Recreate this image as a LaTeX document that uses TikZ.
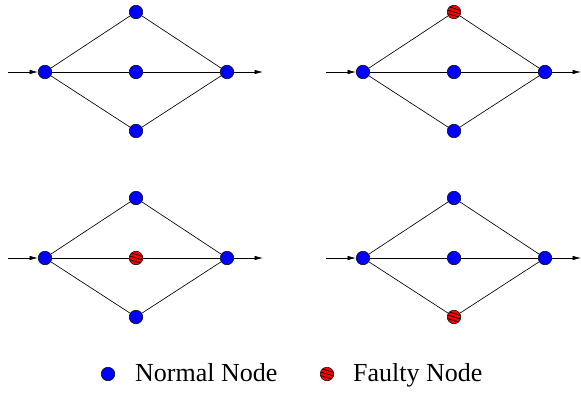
\documentclass[tikz,border=0pt]{standalone}
\usepackage{fontspec}
\setmainfont{Liberation Serif}
\usetikzlibrary{arrows.meta}
\begin{document}
\begin{tikzpicture}[x=1pt,y=-1pt,
  base/.style={circle, draw=black, line width=0.5pt, minimum size=13.5pt, inner sep=0pt},
  normal/.style={base, fill=blue},
  faulty/.style={base, fill=red, path picture={
     \foreach \o in {-3.6,0,3.6}
       \draw[line width=0.7pt] ([yshift=\o pt]path picture bounding box.center) ++(-8pt,2.5pt) -- ++(16pt,-5pt);}},
  edge/.style={line width=0.65pt},
  arr/.style={line width=0.65pt, -{Latex[length=8.5pt,width=4.5pt]}},
  lbl/.style={anchor=base west, inner sep=0pt, font=\fontsize{26}{30}\selectfont}]
\useasboundingbox (0,0) rectangle (581,393);
\foreach \i/\dx/\dy/\ts/\ms/\bs in {1/0/0/normal/normal/normal, 2/318/0/faulty/normal/normal, 3/0/186/normal/faulty/normal, 4/318/186/normal/normal/faulty}{
  \begin{scope}[shift={(\dx,\dy)}]
    \node[normal] (L\i) at (45,72) {};
    \node[\ts] (T\i) at (136,12) {};
    \node[\ms] (M\i) at (136,72) {};
    \node[\bs] (B\i) at (136,131) {};
    \node[normal] (R\i) at (227,72) {};
    \coordinate (in\i) at (8,72);
    \coordinate (out\i) at (263,72);
  \end{scope}
  \draw[edge] (L\i) -- (T\i) -- (R\i);
  \draw[edge] (L\i) -- (M\i) -- (R\i);
  \draw[edge] (L\i) -- (B\i) -- (R\i);
  \draw[arr] (in\i) -- (L\i);
  \draw[arr] (R\i) -- (out\i);
}
\node[normal] (leg1) at (108,374) {};
\node[lbl] (legt1) at (135,381) {Normal Node};
\node[faulty] (leg2) at (327,374) {};
\node[lbl] (legt2) at (353,381) {Faulty Node};
\end{tikzpicture}
\end{document}
